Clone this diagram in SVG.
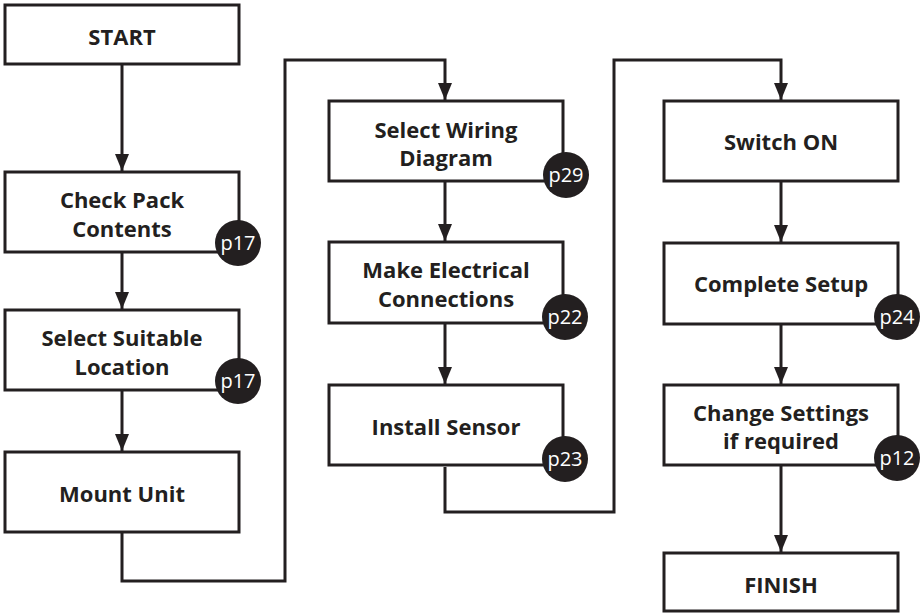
<svg xmlns="http://www.w3.org/2000/svg" width="922" height="613" viewBox="0 0 922 613">
<style>
.box{fill:#fff;stroke:#231f20;stroke-width:3}
.lbl{font-family:"Open Sans","Liberation Sans",sans-serif;font-weight:700;font-size:22px;fill:#231f20;text-anchor:middle}
.bd{fill:#231f20}
.bt{font-family:"Open Sans","Liberation Sans",sans-serif;font-size:20px;fill:#fff;text-anchor:middle}
.ln{fill:none;stroke:#231f20;stroke-width:3}
</style>
<defs>
<marker id="arr" viewBox="0 0 17 14" refX="17" refY="7" markerWidth="17" markerHeight="14" markerUnits="userSpaceOnUse" orient="auto">
<path d="M0,0 L17,7 L0,14 Z" fill="#231f20"/>
</marker>
</defs>
<g id="connectors">
<path class="ln" d="M122,64 V171" marker-end="url(#arr)"/>
<path class="ln" d="M122,252 V309" marker-end="url(#arr)"/>
<path class="ln" d="M122,390 V451" marker-end="url(#arr)"/>
<path class="ln" d="M122,532 V581 H285 V60 H445 V100" marker-end="url(#arr)"/>
<path class="ln" d="M445,181 V241" marker-end="url(#arr)"/>
<path class="ln" d="M445,323 V384" marker-end="url(#arr)"/>
<path class="ln" d="M445,467 V512 H614 V60 H781 V100" marker-end="url(#arr)"/>
<path class="ln" d="M781,181 V242" marker-end="url(#arr)"/>
<path class="ln" d="M781,324 V384" marker-end="url(#arr)"/>
<path class="ln" d="M781,465 V552" marker-end="url(#arr)"/>
</g>
<g id="start">
<rect class="box" x="5" y="5" width="234" height="59"/>
<text class="lbl" x="122" y="45">START</text>
</g>
<g id="check-pack">
<rect class="box" x="5" y="172" width="234" height="80"/>
<text class="lbl" x="122" y="208">Check Pack</text>
<text class="lbl" x="122" y="237">Contents</text>
<circle class="bd" cx="238" cy="243" r="23"/>
<text class="bt" x="238" y="250">p17</text>
</g>
<g id="select-location">
<rect class="box" x="5" y="310" width="234" height="80"/>
<text class="lbl" x="122" y="346">Select Suitable</text>
<text class="lbl" x="122" y="375">Location</text>
<circle class="bd" cx="238" cy="381" r="23"/>
<text class="bt" x="238" y="388">p17</text>
</g>
<g id="mount-unit">
<rect class="box" x="5" y="452" width="234" height="80"/>
<text class="lbl" x="122" y="502">Mount Unit</text>
</g>
<g id="select-wiring">
<rect class="box" x="329" y="101" width="234" height="80"/>
<text class="lbl" x="446" y="138">Select Wiring</text>
<text class="lbl" x="446" y="166">Diagram</text>
<circle class="bd" cx="566" cy="175" r="23"/>
<text class="bt" x="566" y="182">p29</text>
</g>
<g id="make-electrical">
<rect class="box" x="329" y="242" width="234" height="81"/>
<text class="lbl" x="446" y="278">Make Electrical</text>
<text class="lbl" x="446" y="307">Connections</text>
<circle class="bd" cx="565" cy="317" r="23"/>
<text class="bt" x="565" y="324">p22</text>
</g>
<g id="install-sensor">
<rect class="box" x="329" y="385" width="234" height="80"/>
<text class="lbl" x="446" y="435">Install Sensor</text>
<circle class="bd" cx="565" cy="459" r="23"/>
<text class="bt" x="565" y="466">p23</text>
</g>
<g id="switch-on">
<rect class="box" x="664" y="101" width="234" height="80"/>
<text class="lbl" x="781" y="150">Switch ON</text>
</g>
<g id="complete-setup">
<rect class="box" x="664" y="243" width="234" height="81"/>
<text class="lbl" x="781" y="292">Complete Setup</text>
<circle class="bd" cx="897" cy="317" r="23"/>
<text class="bt" x="897" y="324">p24</text>
</g>
<g id="change-settings">
<rect class="box" x="664" y="385" width="234" height="80"/>
<text class="lbl" x="781" y="421">Change Settings</text>
<text class="lbl" x="781" y="449">if required</text>
<circle class="bd" cx="897" cy="458" r="23"/>
<text class="bt" x="897" y="465">p12</text>
</g>
<g id="finish">
<rect class="box" x="664" y="553" width="234" height="58"/>
<text class="lbl" x="781" y="593">FINISH</text>
</g>
</svg>
